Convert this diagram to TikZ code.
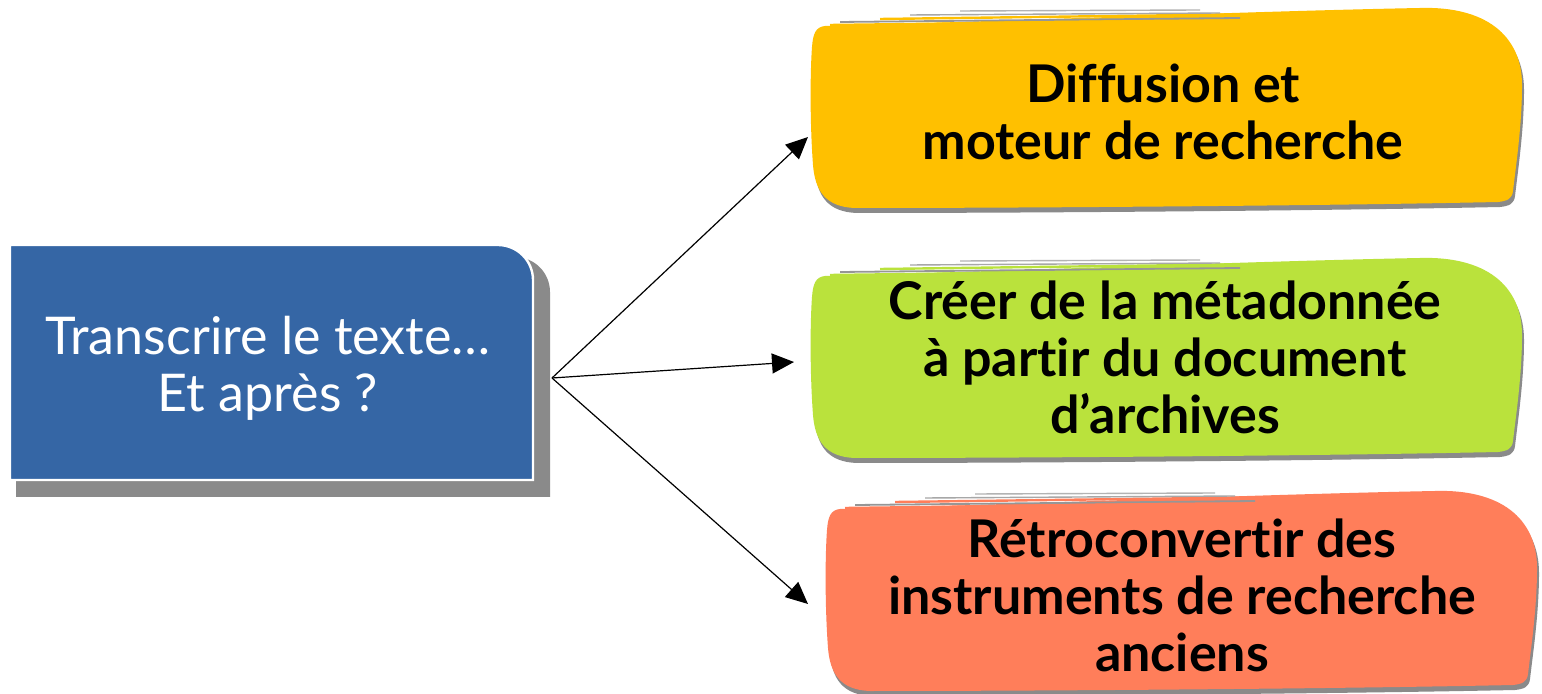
\documentclass[tikz,border=0pt]{standalone}
\usepackage{fontspec}
\setmainfont{Lato}[Ligatures=NoCommon]
\usetikzlibrary{arrows.meta}
\definecolor{boxblue}{HTML}{3566A5}
\definecolor{boxorange}{HTML}{FFC000}
\definecolor{boxgreen}{HTML}{BAE23C}
\definecolor{boxred}{HTML}{FF7E5A}
\definecolor{shadowgray}{HTML}{8A8A8A}
\newcommand\blobshape[3]{%
  \begin{scope}[shift={(#2,#3)}]
    \fill[shadowgray] (17,26) .. controls (202,21) and (452,11) .. (612,8)
      .. controls (677,6) and (714,35) .. (714,85)
      .. controls (714,125) and (708,165) .. (705,191)
      .. controls (704,199) and (699,201) .. (690,202)
      .. controls (502,206) and (202,208) .. (47,208)
      .. controls (17,207) and (7,190) .. (5,165)
      .. controls (2,125) and (2,75) .. (4,47)
      .. controls (5,33) and (8,27) .. (17,26) -- cycle;
    \fill[#1] (15,21) .. controls (200,16) and (450,6) .. (610,3)
      .. controls (675,1) and (712,30) .. (712,80)
      .. controls (712,120) and (706,160) .. (703,186)
      .. controls (702,194) and (697,196) .. (688,197)
      .. controls (500,201) and (200,203) .. (45,203)
      .. controls (15,202) and (5,185) .. (3,160)
      .. controls (0,120) and (0,70) .. (2,42)
      .. controls (3,28) and (6,22) .. (15,21) -- cycle;
    \draw[shadowgray!90, line width=0.9pt] (30,17) -- (430,13);
    \draw[#1, line width=1.2pt] (70,14) -- (460,9);
    \draw[shadowgray!75, line width=0.7pt] (100,10) -- (410,8);
    \draw[#1, line width=1.2pt] (20,20) -- (350,16);
    \draw[shadowgray!65, line width=0.7pt] (150,6) -- (390,5);
  \end{scope}}
\tikzset{
  lbl/.style={align=center, font=\fontsize{26}{28.5}\selectfont\bfseries, text=black, inner sep=0pt},
  arr/.style={-{Triangle[length=11pt,width=10pt]}, line width=0.6pt, black}
}
\begin{document}
\begin{tikzpicture}[x=0.5pt,y=-0.5pt]
\useasboundingbox[fill=white] (0,0) rectangle (1542,694);
% blue box with shadow
\fill[shadowgray] (16,257) -- (515,257) .. controls (534.3,257) and (550,272.7) .. (550,292) -- (550,497) -- (16,497) -- cycle;
\draw[white, line width=1.2pt, fill=boxblue] (10,245) -- (498,245) .. controls (517.3,245) and (533,260.7) .. (533,280) -- (533,480) -- (10,480) -- cycle;
\node[align=center, text=white, inner sep=0pt, font=\fontsize{26}{28.5}\selectfont] (src) at (268,368) {Transcrire le texte…\\Et après ?};
% coloured boxes
\blobshape{boxorange}{810}{5}
\blobshape{boxgreen}{810}{255}
\blobshape{boxred}{825}{488}
\node[lbl] (diff) at (1163,112) {Diffusion et\\moteur de recherche};
\node[lbl] (meta) at (1165,357) {Créer de la métadonnée\\à partir du document\\d’archives};
\node[lbl] (retro) at (1182,595) {Rétroconvertir des\\instruments de recherche\\anciens};
% connectors
\coordinate (start) at (552,378);
\coordinate (tipA) at (808,137);
\coordinate (tipB) at (794,362);
\coordinate (tipC) at (808,604);
\draw[arr] (start) -- (tipA);
\draw[arr] (start) -- (tipB);
\draw[arr] (start) -- (tipC);
\end{tikzpicture}
\end{document}
